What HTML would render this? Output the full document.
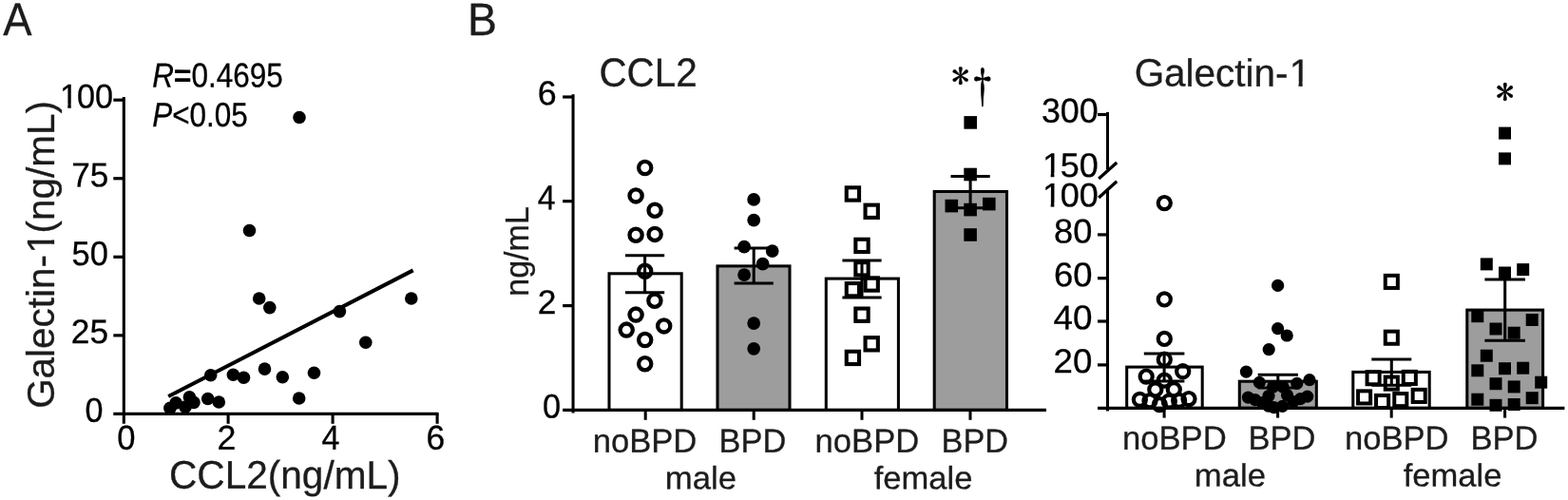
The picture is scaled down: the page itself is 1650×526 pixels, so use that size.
<!DOCTYPE html>
<html lang="en">
<head>
<meta charset="utf-8">
<title>CCL2 and Galectin-1</title>
<style>
html,body{margin:0;padding:0;background:#fff;}
body{width:1650px;height:526px;overflow:hidden;}
svg{display:block;}
.s{font-family:"Liberation Sans",Arial,Helvetica,sans-serif;}
.r{font-family:"Liberation Serif","Times New Roman",serif;}
.g{font-family:"IPAGothic","Liberation Serif",serif;}
.n{font-family:"Noto Serif CJK SC","Liberation Serif",serif;}
text{stroke-linejoin:round;}
</style>
</head>
<body>
<svg width="1650" height="526" viewBox="0 0 1650 526" role="img" aria-label="Correlation of CCL2 and Galectin-1 and levels by sex and BPD status">
<rect width="1650" height="526" fill="#fff"/>
<g id="panelA">
<text class="s" transform="translate(3.32 36.9) rotate(0.03) scale(0.9350 1)" font-size="48.61" fill="#1c1c1c" stroke="#1c1c1c" stroke-width="0.3">A</text>
<line x1="130.3" y1="102" x2="130.3" y2="445.8" stroke="#000" stroke-width="3.1" stroke-linecap="butt"/>
<line x1="119.3" y1="435.4" x2="461.6" y2="435.4" stroke="#000" stroke-width="3.2" stroke-linecap="butt"/>
<line x1="119.3" y1="105.2" x2="130.3" y2="105.2" stroke="#000" stroke-width="3.2" stroke-linecap="butt"/>
<line x1="119.3" y1="187.75" x2="130.3" y2="187.75" stroke="#000" stroke-width="3.2" stroke-linecap="butt"/>
<line x1="119.3" y1="270.3" x2="130.3" y2="270.3" stroke="#000" stroke-width="3.2" stroke-linecap="butt"/>
<line x1="119.3" y1="352.85" x2="130.3" y2="352.85" stroke="#000" stroke-width="3.2" stroke-linecap="butt"/>
<line x1="240.1" y1="435.4" x2="240.1" y2="445.8" stroke="#000" stroke-width="3.1" stroke-linecap="butt"/>
<line x1="350.1" y1="435.4" x2="350.1" y2="445.8" stroke="#000" stroke-width="3.1" stroke-linecap="butt"/>
<line x1="460.1" y1="435.4" x2="460.1" y2="445.8" stroke="#000" stroke-width="3.1" stroke-linecap="butt"/>
<g transform="translate(61.92 113.44) rotate(0.03) scale(0.9594 1)"><clipPath id="c1"><path clip-rule="evenodd" d="M-71.27 -71.27H427.61V71.27H-71.27ZM2.14 -4.1H9.8V1.78H2.14ZM13.4 -4.1H20.31V1.78H13.4Z"/></clipPath><g clip-path="url(#c1)"><text class="s" font-size="35.63" fill="#000" stroke="#000" stroke-width="0.3"><tspan dx="1.07">1</tspan><tspan dx="-1.07">00</tspan></text></g></g>
<text class="s" transform="translate(75.19 196.34) rotate(0.03) scale(0.9855 1)" font-size="35.71" fill="#000" stroke="#000" stroke-width="0.3">75</text>
<text class="s" transform="translate(75.57 278.94) rotate(0.03) scale(0.9577 1)" font-size="35.92" fill="#000" stroke="#000" stroke-width="0.3">50</text>
<text class="s" transform="translate(74.79 360.95) rotate(0.03) scale(0.9944 1)" font-size="35.49" fill="#000" stroke="#000" stroke-width="0.3">25</text>
<text class="s" transform="translate(89.59 443.74) rotate(0.03) scale(0.9533 1)" font-size="35.77" fill="#000" stroke="#000" stroke-width="0.3">0</text>
<text class="s" transform="translate(123.37 472.74) rotate(0.03) scale(0.9576 1)" font-size="36.06" fill="#000" stroke="#000" stroke-width="0.3">0</text>
<text class="s" transform="translate(228.56 472.7) rotate(0.03) scale(0.9951 1)" font-size="36" fill="#000" stroke="#000" stroke-width="0.3">2</text>
<text class="s" transform="translate(338.6 472.7) rotate(0.03) scale(0.9477 1)" font-size="36.09" fill="#000" stroke="#000" stroke-width="0.3">4</text>
<text class="s" transform="translate(448.58 472.74) rotate(0.03) scale(0.9828 1)" font-size="36.06" fill="#000" stroke="#000" stroke-width="0.3">6</text>
<text class="s" transform="translate(178.02 513.8) rotate(0.03) scale(0.9794 1)" font-size="41.46" fill="#1c1c1c" stroke="#1c1c1c" stroke-width="0.3">CCL2(ng/mL)</text>
<g transform="translate(57.4 429.87) rotate(-90) scale(0.9741 1)"><clipPath id="c2"><path clip-rule="evenodd" d="M-83.14 -83.14H498.86V83.14H-83.14ZM168.82 -4.78H177.76V2.08H168.82ZM181.96 -4.78H190.02V2.08H181.96Z"/></clipPath><g clip-path="url(#c2)"><text class="s" font-size="41.57" fill="#1c1c1c" stroke="#1c1c1c" stroke-width="0.3">Galectin-<tspan dx="1.25">1</tspan><tspan dx="-1.25">(ng/mL)</tspan></text></g></g>
<text class="s" transform="translate(160.3 91.49) rotate(0.03) scale(0.8788 1)" font-size="35.85" fill="#000" stroke="#000" stroke-width="0.3"><tspan font-style="italic">R</tspan><tspan stroke-width="1.1">=</tspan>0.4695</text>
<text class="s" transform="translate(160.21 133.04) rotate(0.03) scale(0.8758 1)" font-size="35.92" fill="#000" stroke="#000" stroke-width="0.3"><tspan font-style="italic">P</tspan>&lt;0.05</text>
<line x1="177.2" y1="417" x2="434.7" y2="284.4" stroke="#000" stroke-width="4.0" stroke-linecap="butt"/>
<circle cx="178.9" cy="429.4" r="6.8" fill="#000"/>
<circle cx="185.1" cy="423.9" r="6.8" fill="#000"/>
<circle cx="195" cy="428.1" r="6.8" fill="#000"/>
<circle cx="199.4" cy="417.8" r="6.8" fill="#000"/>
<circle cx="203.9" cy="423.4" r="6.8" fill="#000"/>
<circle cx="218.7" cy="419.5" r="6.8" fill="#000"/>
<circle cx="230.3" cy="423" r="6.8" fill="#000"/>
<circle cx="221.7" cy="394.8" r="6.8" fill="#000"/>
<circle cx="245.4" cy="394.3" r="6.8" fill="#000"/>
<circle cx="256.5" cy="397.2" r="6.8" fill="#000"/>
<circle cx="278.5" cy="388.1" r="6.8" fill="#000"/>
<circle cx="297.3" cy="396.7" r="6.8" fill="#000"/>
<circle cx="330.5" cy="392.3" r="6.8" fill="#000"/>
<circle cx="314.7" cy="419" r="6.8" fill="#000"/>
<circle cx="432.8" cy="314" r="6.8" fill="#000"/>
<circle cx="357.4" cy="327.6" r="6.8" fill="#000"/>
<circle cx="384.8" cy="360.3" r="6.8" fill="#000"/>
<circle cx="315" cy="123.5" r="6.8" fill="#000"/>
<circle cx="262.5" cy="242.5" r="6.8" fill="#000"/>
<circle cx="272.7" cy="314" r="6.8" fill="#000"/>
<circle cx="283.8" cy="323.6" r="6.8" fill="#000"/>
</g>
<g id="panelB1">
<text class="s" transform="translate(492.04 36.9) rotate(0.03) scale(0.9605 1)" font-size="48.26" fill="#1c1c1c" stroke="#1c1c1c" stroke-width="0.3">B</text>
<text class="s" transform="translate(630.43 90.78) rotate(0.03) scale(0.9563 1)" font-size="42.25" fill="#1c1c1c" stroke="#1c1c1c" stroke-width="0.3">CCL2</text>
<rect x="641" y="287.8" width="76.2" height="143.6" fill="#fff" stroke="#000" stroke-width="3.05"/>
<rect x="755" y="279.9" width="76" height="151.5" fill="#9d9d9d" stroke="#000" stroke-width="3.05"/>
<rect x="869.3" y="293.1" width="76.1" height="138.3" fill="#fff" stroke="#000" stroke-width="3.05"/>
<rect x="983.2" y="201.5" width="76.3" height="229.9" fill="#9d9d9d" stroke="#000" stroke-width="3.05"/>
<line x1="603.05" y1="99.2" x2="603.05" y2="434.4" stroke="#000" stroke-width="3.05" stroke-linecap="butt"/>
<line x1="592.1" y1="431.4" x2="1101" y2="431.4" stroke="#000" stroke-width="3.2" stroke-linecap="butt"/>
<line x1="592.1" y1="102" x2="603.05" y2="102" stroke="#000" stroke-width="3.2" stroke-linecap="butt"/>
<line x1="592.1" y1="211.7" x2="603.05" y2="211.7" stroke="#000" stroke-width="3.2" stroke-linecap="butt"/>
<line x1="592.1" y1="321.6" x2="603.05" y2="321.6" stroke="#000" stroke-width="3.2" stroke-linecap="butt"/>
<line x1="679.2" y1="431.4" x2="679.2" y2="441.8" stroke="#000" stroke-width="3.05" stroke-linecap="butt"/>
<line x1="793.2" y1="431.4" x2="793.2" y2="441.8" stroke="#000" stroke-width="3.05" stroke-linecap="butt"/>
<line x1="907" y1="431.4" x2="907" y2="441.8" stroke="#000" stroke-width="3.05" stroke-linecap="butt"/>
<line x1="1021" y1="431.4" x2="1021" y2="441.8" stroke="#000" stroke-width="3.05" stroke-linecap="butt"/>
<text class="s" transform="translate(565.66 110.34) rotate(0.03) scale(0.9987 1)" font-size="35.92" fill="#000" stroke="#000" stroke-width="0.3">6</text>
<text class="s" transform="translate(565.8 220.2) rotate(0.03) scale(0.9255 1)" font-size="36.52" fill="#000" stroke="#000" stroke-width="0.3">4</text>
<text class="s" transform="translate(565.68 329.9) rotate(0.03) scale(0.9947 1)" font-size="35.57" fill="#000" stroke="#000" stroke-width="0.3">2</text>
<text class="s" transform="translate(571.08 439.55) rotate(0.03) scale(0.9707 1)" font-size="35.35" fill="#000" stroke="#000" stroke-width="0.3">0</text>
<text class="s" transform="translate(556.2 311.76) rotate(-90) scale(0.9814 1)" font-size="34.71" fill="#1c1c1c" stroke="#1c1c1c" stroke-width="0.3">ng/mL</text>
<text class="s" transform="translate(623.7 475.7) rotate(0.03) scale(0.9919 1)" font-size="34.91" fill="#1c1c1c" stroke="#1c1c1c" stroke-width="0.3">noBPD</text>
<text class="s" transform="translate(756.6 475.7) rotate(0.03) scale(0.9854 1)" font-size="34.91" fill="#1c1c1c" stroke="#1c1c1c" stroke-width="0.3">BPD</text>
<text class="s" transform="translate(857.6 475.7) rotate(0.03) scale(0.9910 1)" font-size="34.91" fill="#1c1c1c" stroke="#1c1c1c" stroke-width="0.3">noBPD</text>
<text class="s" transform="translate(990.51 475.7) rotate(0.03) scale(0.9824 1)" font-size="34.91" fill="#1c1c1c" stroke="#1c1c1c" stroke-width="0.3">BPD</text>
<text class="s" transform="translate(699.79 514.2) rotate(0.03) scale(1.0371 1)" font-size="33.51" fill="#1c1c1c" stroke="#1c1c1c" stroke-width="0.3">male</text>
<text class="s" transform="translate(919.63 514.2) rotate(0.03) scale(1.0322 1)" font-size="33.51" fill="#1c1c1c" stroke="#1c1c1c" stroke-width="0.3">female</text>
<line x1="678.6" y1="268.7" x2="678.6" y2="307.8" stroke="#000" stroke-width="3.05" stroke-linecap="butt"/>
<line x1="658" y1="268.7" x2="699.2" y2="268.7" stroke="#000" stroke-width="3.05" stroke-linecap="butt"/>
<line x1="658" y1="307.8" x2="699.2" y2="307.8" stroke="#000" stroke-width="3.05" stroke-linecap="butt"/>
<line x1="793.2" y1="260.9" x2="793.2" y2="298" stroke="#000" stroke-width="3.05" stroke-linecap="butt"/>
<line x1="772.6" y1="260.9" x2="813.8" y2="260.9" stroke="#000" stroke-width="3.05" stroke-linecap="butt"/>
<line x1="772.6" y1="298" x2="813.8" y2="298" stroke="#000" stroke-width="3.05" stroke-linecap="butt"/>
<line x1="907" y1="274" x2="907" y2="312.9" stroke="#000" stroke-width="3.05" stroke-linecap="butt"/>
<line x1="886.4" y1="274" x2="927.6" y2="274" stroke="#000" stroke-width="3.05" stroke-linecap="butt"/>
<line x1="886.4" y1="312.9" x2="927.6" y2="312.9" stroke="#000" stroke-width="3.05" stroke-linecap="butt"/>
<line x1="1021.1" y1="185.5" x2="1021.1" y2="218.8" stroke="#000" stroke-width="3.05" stroke-linecap="butt"/>
<line x1="1000.5" y1="185.5" x2="1041.7" y2="185.5" stroke="#000" stroke-width="3.05" stroke-linecap="butt"/>
<line x1="1000.5" y1="218.8" x2="1041.7" y2="218.8" stroke="#000" stroke-width="3.05" stroke-linecap="butt"/>
<circle cx="678.7" cy="176.5" r="6.6" fill="none" stroke="#000" stroke-width="4.3"/>
<circle cx="669.1" cy="205.9" r="6.6" fill="none" stroke="#000" stroke-width="4.3"/>
<circle cx="689.1" cy="221.2" r="6.6" fill="none" stroke="#000" stroke-width="4.3"/>
<circle cx="669.1" cy="247.2" r="6.6" fill="none" stroke="#000" stroke-width="4.3"/>
<circle cx="689.1" cy="246.4" r="6.6" fill="none" stroke="#000" stroke-width="4.3"/>
<circle cx="678.7" cy="285.3" r="6.6" fill="none" stroke="#000" stroke-width="4.3"/>
<circle cx="688.9" cy="316.2" r="6.6" fill="none" stroke="#000" stroke-width="4.3"/>
<circle cx="669.1" cy="331.1" r="6.6" fill="none" stroke="#000" stroke-width="4.3"/>
<circle cx="698.7" cy="342.9" r="6.6" fill="none" stroke="#000" stroke-width="4.3"/>
<circle cx="659.2" cy="347.1" r="6.6" fill="none" stroke="#000" stroke-width="4.3"/>
<circle cx="678.7" cy="357.5" r="6.6" fill="none" stroke="#000" stroke-width="4.3"/>
<circle cx="678.7" cy="382.7" r="6.6" fill="none" stroke="#000" stroke-width="4.3"/>
<circle cx="793.2" cy="209.9" r="6.9" fill="#000"/>
<circle cx="793.2" cy="231.7" r="6.9" fill="#000"/>
<circle cx="783.1" cy="259.6" r="6.9" fill="#000"/>
<circle cx="812.7" cy="264.1" r="6.9" fill="#000"/>
<circle cx="802.6" cy="277.7" r="6.9" fill="#000"/>
<circle cx="783.1" cy="289.1" r="6.9" fill="#000"/>
<circle cx="793.2" cy="340.1" r="6.9" fill="#000"/>
<circle cx="793.2" cy="366.8" r="6.9" fill="#000"/>
<rect x="890.75" y="197.35" width="13.3" height="13.3" fill="none" stroke="#000" stroke-width="4.1"/>
<rect x="910.55" y="215.65" width="13.3" height="13.3" fill="none" stroke="#000" stroke-width="4.1"/>
<rect x="900.35" y="251.75" width="13.3" height="13.3" fill="none" stroke="#000" stroke-width="4.1"/>
<rect x="900.35" y="276.15" width="13.3" height="13.3" fill="none" stroke="#000" stroke-width="4.1"/>
<rect x="890.75" y="298.05" width="13.3" height="13.3" fill="none" stroke="#000" stroke-width="4.1"/>
<rect x="910.55" y="292.35" width="13.3" height="13.3" fill="none" stroke="#000" stroke-width="4.1"/>
<rect x="900.35" y="324.55" width="13.3" height="13.3" fill="none" stroke="#000" stroke-width="4.1"/>
<rect x="910.55" y="355.15" width="13.3" height="13.3" fill="none" stroke="#000" stroke-width="4.1"/>
<rect x="890.75" y="369.75" width="13.3" height="13.3" fill="none" stroke="#000" stroke-width="4.1"/>
<rect x="1014.4" y="122.1" width="13.6" height="13.6" fill="#000"/>
<rect x="1014.3" y="176.7" width="13.6" height="13.6" fill="#000"/>
<rect x="994.5" y="209.8" width="13.6" height="13.6" fill="#000"/>
<rect x="1034" y="207.8" width="13.6" height="13.6" fill="#000"/>
<rect x="1014.3" y="213.8" width="13.6" height="13.6" fill="#000"/>
<rect x="1014.3" y="240.2" width="13.6" height="13.6" fill="#000"/>
<text class="g" transform="translate(1001.26 94.1) rotate(0.03) scale(1.0020 1)" font-size="37.9" fill="#000" stroke="#000" stroke-width="0.45">*</text>
<text class="n" transform="translate(1016.51 108.62) rotate(0.03) scale(0.7344 1)" font-size="47.09" fill="#000" stroke="#000" stroke-width="0.9">†</text>
</g>
<g id="panelB2">
<g transform="translate(1193.63 90.6) rotate(0.03) scale(0.9898 1)"><clipPath id="c3"><path clip-rule="evenodd" d="M-81.71 -81.71H490.29V81.71H-81.71ZM165.92 -4.7H174.71V2.04H165.92ZM178.83 -4.7H186.76V2.04H178.83Z"/></clipPath><g clip-path="url(#c3)"><text class="s" font-size="40.86" fill="#1c1c1c" stroke="#1c1c1c" stroke-width="0.3">Galectin-<tspan dx="1.23">1</tspan></text></g></g>
<rect x="1185.7" y="386.1" width="79.5" height="43.25" fill="#fff" stroke="#000" stroke-width="3.05"/>
<rect x="1304.3" y="401.2" width="81" height="28.15" fill="#9d9d9d" stroke="#000" stroke-width="3.05"/>
<rect x="1423.8" y="391.4" width="80.4" height="37.95" fill="#fff" stroke="#000" stroke-width="3.05"/>
<rect x="1543.8" y="326.1" width="79.8" height="103.25" fill="#9d9d9d" stroke="#000" stroke-width="3.05"/>
<line x1="1165.5" y1="117.9" x2="1165.5" y2="178" stroke="#000" stroke-width="3.05" stroke-linecap="butt"/>
<line x1="1165.5" y1="200" x2="1165.5" y2="432.6" stroke="#000" stroke-width="3.05" stroke-linecap="butt"/>
<line x1="1156.2" y1="188" x2="1175.2" y2="171" stroke="#000" stroke-width="3.3" stroke-linecap="butt"/>
<line x1="1156.2" y1="208" x2="1175.2" y2="190.8" stroke="#000" stroke-width="3.3" stroke-linecap="butt"/>
<line x1="1155" y1="429.35" x2="1646.4" y2="429.35" stroke="#000" stroke-width="3.2" stroke-linecap="butt"/>
<line x1="1155" y1="120.5" x2="1165.5" y2="120.5" stroke="#000" stroke-width="3.2" stroke-linecap="butt"/>
<line x1="1155" y1="246.9" x2="1165.5" y2="246.9" stroke="#000" stroke-width="3.2" stroke-linecap="butt"/>
<line x1="1155" y1="292.7" x2="1165.5" y2="292.7" stroke="#000" stroke-width="3.2" stroke-linecap="butt"/>
<line x1="1155" y1="338" x2="1165.5" y2="338" stroke="#000" stroke-width="3.2" stroke-linecap="butt"/>
<line x1="1155" y1="383.9" x2="1165.5" y2="383.9" stroke="#000" stroke-width="3.2" stroke-linecap="butt"/>
<line x1="1225.1" y1="429.35" x2="1225.1" y2="439.6" stroke="#000" stroke-width="3.05" stroke-linecap="butt"/>
<line x1="1344.6" y1="429.35" x2="1344.6" y2="439.6" stroke="#000" stroke-width="3.05" stroke-linecap="butt"/>
<line x1="1464.2" y1="429.35" x2="1464.2" y2="439.6" stroke="#000" stroke-width="3.05" stroke-linecap="butt"/>
<line x1="1583.6" y1="429.35" x2="1583.6" y2="439.6" stroke="#000" stroke-width="3.05" stroke-linecap="butt"/>
<text class="s" transform="translate(1095.92 128.84) rotate(0.03) scale(0.9943 1)" font-size="36.06" fill="#000" stroke="#000" stroke-width="0.3">300</text>
<g transform="translate(1095.83 185.94) rotate(0.03) scale(1.0092 1)"><clipPath id="c4"><path clip-rule="evenodd" d="M-71.27 -71.27H427.61V71.27H-71.27ZM2.14 -4.1H9.8V1.78H2.14ZM13.4 -4.1H20.31V1.78H13.4Z"/></clipPath><g clip-path="url(#c4)"><text class="s" font-size="35.63" fill="#000" stroke="#000" stroke-width="0.3"><tspan dx="1.07">1</tspan><tspan dx="-1.07">50</tspan></text></g></g>
<g transform="translate(1095.83 217.35) rotate(0.03) scale(1.0214 1)"><clipPath id="c5"><path clip-rule="evenodd" d="M-70.42 -70.42H422.54V70.42H-70.42ZM2.11 -4.05H9.68V1.76H2.11ZM13.24 -4.05H20.07V1.76H13.24Z"/></clipPath><g clip-path="url(#c5)"><text class="s" font-size="35.21" fill="#000" stroke="#000" stroke-width="0.3"><tspan dx="1.06">1</tspan><tspan dx="-1.06">00</tspan></text></g></g>
<text class="s" transform="translate(1109.12 255.44) rotate(0.03) scale(1.0083 1)" font-size="35.92" fill="#000" stroke="#000" stroke-width="0.3">80</text>
<text class="s" transform="translate(1108.93 301.14) rotate(0.03) scale(1.0132 1)" font-size="35.92" fill="#000" stroke="#000" stroke-width="0.3">60</text>
<text class="s" transform="translate(1108.43 346.34) rotate(0.03) scale(1.0303 1)" font-size="35.77" fill="#000" stroke="#000" stroke-width="0.3">40</text>
<text class="s" transform="translate(1108.62 391.95) rotate(0.03) scale(1.0335 1)" font-size="35.49" fill="#000" stroke="#000" stroke-width="0.3">20</text>
<text class="s" transform="translate(1181 472.7) rotate(0.03) scale(0.9919 1)" font-size="34.91" fill="#1c1c1c" stroke="#1c1c1c" stroke-width="0.3">noBPD</text>
<text class="s" transform="translate(1313.59 472.7) rotate(0.03) scale(0.9884 1)" font-size="34.91" fill="#1c1c1c" stroke="#1c1c1c" stroke-width="0.3">BPD</text>
<text class="s" transform="translate(1415 472.7) rotate(0.03) scale(0.9910 1)" font-size="34.91" fill="#1c1c1c" stroke="#1c1c1c" stroke-width="0.3">noBPD</text>
<text class="s" transform="translate(1547.39 472.7) rotate(0.03) scale(0.9899 1)" font-size="34.91" fill="#1c1c1c" stroke="#1c1c1c" stroke-width="0.3">BPD</text>
<text class="s" transform="translate(1256.79 511.5) rotate(0.03) scale(1.0357 1)" font-size="33.51" fill="#1c1c1c" stroke="#1c1c1c" stroke-width="0.3">male</text>
<text class="s" transform="translate(1476.63 511.5) rotate(0.03) scale(1.0322 1)" font-size="33.51" fill="#1c1c1c" stroke="#1c1c1c" stroke-width="0.3">female</text>
<line x1="1225.1" y1="371.9" x2="1225.1" y2="400.9" stroke="#000" stroke-width="3.05" stroke-linecap="butt"/>
<line x1="1203.8" y1="371.9" x2="1246.4" y2="371.9" stroke="#000" stroke-width="3.05" stroke-linecap="butt"/>
<line x1="1203.8" y1="400.9" x2="1246.4" y2="400.9" stroke="#000" stroke-width="3.05" stroke-linecap="butt"/>
<line x1="1344.8" y1="394.3" x2="1344.8" y2="408" stroke="#000" stroke-width="3.05" stroke-linecap="butt"/>
<line x1="1323.7" y1="394.3" x2="1365.9" y2="394.3" stroke="#000" stroke-width="3.05" stroke-linecap="butt"/>
<line x1="1323.7" y1="408" x2="1365.9" y2="408" stroke="#000" stroke-width="3.05" stroke-linecap="butt"/>
<line x1="1464.3" y1="378" x2="1464.3" y2="405.2" stroke="#000" stroke-width="3.05" stroke-linecap="butt"/>
<line x1="1443.3" y1="378" x2="1485.3" y2="378" stroke="#000" stroke-width="3.05" stroke-linecap="butt"/>
<line x1="1443.3" y1="405.2" x2="1485.3" y2="405.2" stroke="#000" stroke-width="3.05" stroke-linecap="butt"/>
<line x1="1583.7" y1="294" x2="1583.7" y2="358.2" stroke="#000" stroke-width="3.05" stroke-linecap="butt"/>
<line x1="1562.4" y1="294" x2="1605" y2="294" stroke="#000" stroke-width="3.05" stroke-linecap="butt"/>
<line x1="1562.4" y1="358.2" x2="1605" y2="358.2" stroke="#000" stroke-width="3.05" stroke-linecap="butt"/>
<circle cx="1225.3" cy="213.55" r="6.55" fill="none" stroke="#000" stroke-width="4.2"/>
<circle cx="1225.3" cy="314.95" r="6.55" fill="none" stroke="#000" stroke-width="4.2"/>
<circle cx="1225.3" cy="356.45" r="6.55" fill="none" stroke="#000" stroke-width="4.2"/>
<circle cx="1225.3" cy="378.25" r="6.55" fill="none" stroke="#000" stroke-width="4.2"/>
<circle cx="1244.7" cy="390.75" r="6.55" fill="none" stroke="#000" stroke-width="4.2"/>
<circle cx="1206.2" cy="396.05" r="6.55" fill="none" stroke="#000" stroke-width="4.2"/>
<circle cx="1225.3" cy="400.15" r="6.55" fill="none" stroke="#000" stroke-width="4.2"/>
<circle cx="1215.8" cy="409.95" r="6.55" fill="none" stroke="#000" stroke-width="4.2"/>
<circle cx="1235.3" cy="409.75" r="6.55" fill="none" stroke="#000" stroke-width="4.2"/>
<circle cx="1199.4" cy="420.35" r="6.55" fill="none" stroke="#000" stroke-width="4.2"/>
<circle cx="1210" cy="421.75" r="6.55" fill="none" stroke="#000" stroke-width="4.2"/>
<circle cx="1220.3" cy="425.65" r="6.55" fill="none" stroke="#000" stroke-width="4.2"/>
<circle cx="1230.3" cy="422.15" r="6.55" fill="none" stroke="#000" stroke-width="4.2"/>
<circle cx="1240.6" cy="421.35" r="6.55" fill="none" stroke="#000" stroke-width="4.2"/>
<circle cx="1251" cy="419.55" r="6.55" fill="none" stroke="#000" stroke-width="4.2"/>
<circle cx="1344.6" cy="300.4" r="6.6" fill="#000"/>
<circle cx="1344.6" cy="345.7" r="6.6" fill="#000"/>
<circle cx="1354.2" cy="353" r="6.6" fill="#000"/>
<circle cx="1335.2" cy="367.6" r="6.6" fill="#000"/>
<circle cx="1311.4" cy="391.1" r="6.6" fill="#000"/>
<circle cx="1325.3" cy="402.3" r="6.6" fill="#000"/>
<circle cx="1364.8" cy="403.3" r="6.6" fill="#000"/>
<circle cx="1378" cy="399.6" r="6.6" fill="#000"/>
<circle cx="1313.4" cy="418.1" r="6.6" fill="#000"/>
<circle cx="1320.8" cy="420.6" r="6.6" fill="#000"/>
<circle cx="1328.2" cy="423.6" r="6.6" fill="#000"/>
<circle cx="1335" cy="416.5" r="6.6" fill="#000"/>
<circle cx="1339.6" cy="407" r="6.6" fill="#000"/>
<circle cx="1350.1" cy="407" r="6.6" fill="#000"/>
<circle cx="1354.5" cy="415.7" r="6.6" fill="#000"/>
<circle cx="1340.6" cy="428.6" r="6.6" fill="#000"/>
<circle cx="1349.5" cy="427.3" r="6.6" fill="#000"/>
<circle cx="1334.7" cy="427.2" r="6.6" fill="#000"/>
<circle cx="1360.9" cy="422.6" r="6.6" fill="#000"/>
<circle cx="1368.3" cy="419.6" r="6.6" fill="#000"/>
<circle cx="1375.7" cy="417.1" r="6.6" fill="#000"/>
<rect x="1457.75" y="289.85" width="13.1" height="13.1" fill="none" stroke="#000" stroke-width="4.0"/>
<rect x="1457.75" y="348.65" width="13.1" height="13.1" fill="none" stroke="#000" stroke-width="4.0"/>
<rect x="1438.55" y="391.15" width="13.1" height="13.1" fill="none" stroke="#000" stroke-width="4.0"/>
<rect x="1476.75" y="390.85" width="13.1" height="13.1" fill="none" stroke="#000" stroke-width="4.0"/>
<rect x="1457.75" y="396.55" width="13.1" height="13.1" fill="none" stroke="#000" stroke-width="4.0"/>
<rect x="1429.05" y="411.35" width="13.1" height="13.1" fill="none" stroke="#000" stroke-width="4.0"/>
<rect x="1486.65" y="409.85" width="13.1" height="13.1" fill="none" stroke="#000" stroke-width="4.0"/>
<rect x="1448.05" y="415.95" width="13.1" height="13.1" fill="none" stroke="#000" stroke-width="4.0"/>
<rect x="1467.25" y="414.05" width="13.1" height="13.1" fill="none" stroke="#000" stroke-width="4.0"/>
<rect x="1577" y="133.6" width="13" height="13" fill="#000"/>
<rect x="1577" y="160.4" width="13" height="13" fill="#000"/>
<rect x="1557.8" y="271.4" width="13" height="13" fill="#000"/>
<rect x="1577" y="280.5" width="13" height="13" fill="#000"/>
<rect x="1596.2" y="277.1" width="13" height="13" fill="#000"/>
<rect x="1548.3" y="326.2" width="13" height="13" fill="#000"/>
<rect x="1605.7" y="330" width="13" height="13" fill="#000"/>
<rect x="1567.5" y="339.5" width="13" height="13" fill="#000"/>
<rect x="1586.7" y="343.7" width="13" height="13" fill="#000"/>
<rect x="1557.8" y="367.7" width="13" height="13" fill="#000"/>
<rect x="1548.3" y="383.3" width="13" height="13" fill="#000"/>
<rect x="1577" y="381.2" width="13" height="13" fill="#000"/>
<rect x="1596.2" y="380.7" width="13" height="13" fill="#000"/>
<rect x="1567.5" y="397.2" width="13" height="13" fill="#000"/>
<rect x="1586.7" y="400.4" width="13" height="13" fill="#000"/>
<rect x="1615.2" y="395.7" width="13" height="13" fill="#000"/>
<rect x="1548.3" y="413.7" width="13" height="13" fill="#000"/>
<rect x="1605.7" y="412.2" width="13" height="13" fill="#000"/>
<rect x="1567.5" y="419.8" width="13" height="13" fill="#000"/>
<rect x="1586.7" y="419" width="13" height="13" fill="#000"/>
<text class="g" transform="translate(1574.12 110.95) rotate(0.03) scale(1.0164 1)" font-size="38.3" fill="#000" stroke="#000" stroke-width="0.45">*</text>
</g>
</svg>
</body>
</html>
